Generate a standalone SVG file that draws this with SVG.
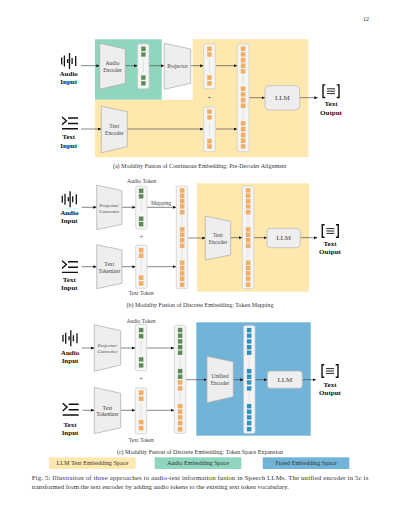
<svg xmlns="http://www.w3.org/2000/svg" width="400" height="517" viewBox="0 0 400 517">
<style>
text{font-family:"Liberation Serif","Times New Roman",serif;fill:#222;text-anchor:middle}
.n{font-size:5.6px;fill:#444}
.b{font-size:7px;font-weight:bold;fill:#111}
.c{font-size:6.03px;fill:#333}
.k{font-size:6.2px;fill:#333}
.l{font-size:7px;fill:#444}
.p{font-size:6.8px;text-anchor:start;fill:#333}
.t{fill:#eee;stroke:#aaa;stroke-width:.7}
.col{fill:#f5f5f5;stroke:#ccc;stroke-width:.7}
.llm{fill:#eee;stroke:#b5b5b5;stroke-width:.7}
.o{fill:#f4ae62;stroke:#e0a868;stroke-width:.3}
.g{fill:#5b8a55;stroke:#7aa070;stroke-width:.3}
.u{fill:#2c90c0;stroke:#4a9cc6;stroke-width:.3}
.gap{stroke:#ccc;stroke-width:.5;fill:none}
.dot{stroke:#aaa;stroke-width:.6;stroke-dasharray:.7 1;fill:none}
.ic{stroke:#111;fill:none;stroke-width:1.3}
#conn line{stroke:#444;stroke-width:.65;fill:none;marker-end:url(#ar)}
</style>
<defs>
<marker id="ar" markerUnits="userSpaceOnUse" markerWidth="4" markerHeight="4" refX="3.4" refY="1.5" orient="auto"><path d="M0 0L3.4 1.5L0 3z" fill="#111"/></marker>
<rect id="so" width="4.2" height="4.2" class="o"/>
<rect id="sg" width="4.2" height="4.2" class="g"/>
<rect id="su" width="4.2" height="4.2" class="u"/>
<g id="iA" class="ic"><path d="M-7-3.5v7M-4.3-5.5v11M-1-2v4M.8-8v16M3.4-3v6M7-5v10"/></g>
<g id="iT" class="ic"><path d="M-8-6L-3.6-2.2L-8 1.8M-2-5H8M-2 .5H8M-8 5.7H8" stroke-width="1.4"/></g>
<g id="iO" class="ic"><path d="M-5.7-6.3H-8V6.3H-5.7M5.7-6.3H8V6.3H5.7" stroke-width="1.4"/><path d="M-4-2.4H4M-4 0H4M-4 2.4H4" stroke-width=".9"/></g>
</defs>
<rect width="400" height="517" fill="#fff"/>
<text x="366" y="21" style="font-size:6px" id="page">12</text>

<g id="zones">
<path d="M192.7 39.3H308.3V157.3H95V99.7H192.7z" fill="#ffe8ae"/>
<rect x="95" y="39.3" width="66.7" height="60.4" fill="#90d5c0"/>
<rect x="197" y="183.3" width="112" height="108.4" fill="#ffe8ae"/>
<rect x="196.3" y="322.3" width="114.4" height="113.4" fill="#72b4d7"/>
</g>

<g id="conn">
<line x1="81" y1="65.7" x2="99.7" y2="65.7"/>
<line x1="125.3" y1="65.7" x2="137.5" y2="65.7"/>
<line x1="149" y1="65.7" x2="164.3" y2="65.7"/>
<line x1="190.7" y1="65.7" x2="203.5" y2="65.7"/>
<line x1="215.3" y1="65.7" x2="237.2" y2="65.7"/>
<line x1="81" y1="129" x2="101.3" y2="129"/>
<line x1="127.3" y1="129" x2="203.5" y2="129"/>
<line x1="215.3" y1="129" x2="237.2" y2="129"/>
<line x1="249" y1="97.7" x2="265" y2="97.7"/>
<line x1="299.7" y1="97.7" x2="317.7" y2="97.7"/>

<line x1="81.7" y1="207.3" x2="96.7" y2="207.3"/>
<line x1="122" y1="207.3" x2="135.7" y2="207.3"/>
<line x1="147" y1="207.3" x2="176.2" y2="207.3"/>
<line x1="81.7" y1="266.7" x2="96.7" y2="266.7"/>
<line x1="122" y1="266.7" x2="135.7" y2="266.7"/>
<line x1="147" y1="266.7" x2="176.2" y2="266.7"/>
<line x1="187.7" y1="238" x2="205.5" y2="238"/>
<line x1="230.7" y1="237.7" x2="242.2" y2="237.7"/>
<line x1="253.7" y1="237.7" x2="267" y2="237.7"/>
<line x1="300.3" y1="237.7" x2="317.3" y2="237.7"/>

<line x1="81.7" y1="348" x2="94.3" y2="348"/>
<line x1="120.7" y1="348" x2="135.3" y2="348"/>
<line x1="146.7" y1="348" x2="174.2" y2="348"/>
<line x1="82.7" y1="410.3" x2="94.3" y2="410.3"/>
<line x1="120.7" y1="410.3" x2="135.3" y2="410.3"/>
<line x1="146.7" y1="410.3" x2="174.2" y2="410.3"/>
<line x1="186" y1="379.7" x2="207" y2="379.7"/>
<line x1="233.3" y1="379.7" x2="243.6" y2="379.7"/>
<line x1="255" y1="379.7" x2="267.3" y2="379.7"/>
<line x1="302.3" y1="379.7" x2="316" y2="379.7"/>
</g>

<!-- panel a -->
<g id="a-audio-input"><use href="#iA" x="68.7" y="61"/><text class="b" x="68.7" y="76">Audio</text><text class="b" x="68.7" y="84">Input</text></g>
<g id="a-text-input"><use href="#iT" x="70" y="123"/><text class="b" x="68.7" y="139.3">Text</text><text class="b" x="68.7" y="148">Input</text></g>
<g id="a-audio-encoder"><path class="t" d="M99.7 43.3L125.3 49V83.3L99.7 89.3z"/><text class="n" x="112.5" y="65">Audio</text><text class="n" x="112.5" y="72">Encoder</text></g>
<g id="a-audio-emb"><rect class="col" x="137.7" y="44" width="11.3" height="44.7" rx="1.5"/><path class="gap" d="M143.3 59V73"/><use href="#sg" x="141.3" y="46.8"/><use href="#sg" x="141.3" y="52.4"/><use href="#sg" x="141.3" y="75.5"/><use href="#sg" x="141.3" y="81.2"/></g>
<g id="a-projector"><path class="t" d="M164.3 43.3L190.7 49V83.3L164.3 89.3z"/><text class="n" x="177.5" y="68">Projector</text></g>
<g id="a-proj-emb"><rect class="col" x="203.7" y="44" width="11.6" height="44.7" rx="1.5"/><path class="gap" d="M209.5 59V73"/><use href="#so" x="207.4" y="46.8"/><use href="#so" x="207.4" y="52.4"/><use href="#so" x="207.4" y="75.5"/><use href="#so" x="207.4" y="81.2"/></g>
<text class="n" x="209.3" y="100" id="a-plus">+</text>
<g id="a-text-encoder"><path class="t" d="M101.3 106.3L127.3 111.7V146.7L101.3 152.7z"/><text class="n" x="114.3" y="128">Text</text><text class="n" x="114.3" y="135">Encoder</text></g>
<g id="a-text-emb"><rect class="col" x="203.7" y="107.3" width="11.6" height="44.4" rx="1.5"/><path class="gap" d="M209.5 122V136"/><use href="#so" x="207.4" y="109.5"/><use href="#so" x="207.4" y="115.3"/><use href="#so" x="207.4" y="139"/><use href="#so" x="207.4" y="144.5"/></g>
<g id="a-fused"><rect class="col" x="237.3" y="44" width="11.7" height="107.7" rx="1.5"/><path class="gap" d="M243.1 75V85M243.1 109V120"/>
<use href="#so" x="241" y="46.7"/><use href="#so" x="241" y="52.3"/><use href="#so" x="241" y="58"/><use href="#so" x="241" y="63.7"/><use href="#so" x="241" y="69.3"/>
<use href="#so" x="241" y="86.7"/><use href="#so" x="241" y="92.3"/><use href="#so" x="241" y="98"/><use href="#so" x="241" y="103.7"/>
<use href="#so" x="241" y="121.3"/><use href="#so" x="241" y="127"/><use href="#so" x="241" y="133"/><use href="#so" x="241" y="138.7"/><use href="#so" x="241" y="144.3"/></g>
<g id="a-llm"><rect class="llm" x="265" y="85.7" width="34.7" height="24.3" rx="4"/><text class="l" x="282.3" y="100">LLM</text></g>
<g id="a-output"><use href="#iO" x="331" y="91.2"/><text class="b" x="331" y="106.3">Text</text><text class="b" x="331" y="115">Output</text></g>
<text class="c" x="199.7" y="168" id="cap-a">(a) Modality Fusion of Continuous Embedding: Pre-Decoder Alignment</text>

<!-- panel b -->
<g id="b-audio-input"><use href="#iA" x="69.3" y="199.3"/><text class="b" x="69.3" y="214.5">Audio</text><text class="b" x="69.3" y="222.5">Input</text></g>
<g id="b-text-input"><use href="#iT" x="70" y="266.7"/><text class="b" x="69.3" y="282.2">Text</text><text class="b" x="69.3" y="290.2">Input</text></g>
<g id="b-projector"><path class="t" d="M96.7 185L122 190.7V224.3L96.7 229.7z"/><text class="n" x="109.3" y="206.5" style="font-size:5px">Projector/</text><text class="n" x="109.3" y="212.5" style="font-size:5px">Converter</text></g>
<text class="n" x="141.7" y="182.5" id="b-audio-token">Audio Token</text>
<g id="b-audio-col"><rect class="col" x="135.7" y="186" width="11.3" height="43" rx="1.5"/><path class="dot" d="M141.3 201.5V212"/><use href="#sg" x="139" y="188.8"/><use href="#sg" x="139" y="194.2"/><use href="#sg" x="139" y="216.7"/><use href="#sg" x="139" y="222"/></g>
<text class="n" x="161" y="205" id="b-mapping">Mapping</text>
<text class="n" x="141.3" y="239" id="b-plus">+</text>
<g id="b-tokenizer"><path class="t" d="M96.7 244.7L122 250V283.3L96.7 288.7z"/><text class="n" x="109.3" y="266">Text</text><text class="n" x="109.3" y="272.5">Tokenizer</text></g>
<g id="b-text-col"><rect class="col" x="135.7" y="245.3" width="11.3" height="43" rx="1.5"/><path class="dot" d="M141.3 260.5V274"/><use href="#so" x="139" y="248"/><use href="#so" x="139" y="253.7"/><use href="#so" x="139" y="275.7"/><use href="#so" x="139" y="281.3"/></g>
<text class="n" x="141.3" y="295.2" id="b-text-token">Text Token</text>
<g id="b-merged"><rect class="col" x="176.3" y="186" width="11.4" height="102.7" rx="1.5"/><path class="gap" d="M182 215V226M182 249V259"/>
<use href="#so" x="180" y="188.3"/><use href="#so" x="180" y="193.7"/><use href="#so" x="180" y="199"/><use href="#so" x="180" y="204.3"/><use href="#so" x="180" y="210"/>
<use href="#so" x="180" y="227.3"/><use href="#so" x="180" y="232.7"/><use href="#so" x="180" y="238"/><use href="#so" x="180" y="243.7"/>
<use href="#so" x="180" y="260.7"/><use href="#so" x="180" y="266"/><use href="#so" x="180" y="271.3"/><use href="#so" x="180" y="276.7"/><use href="#so" x="180" y="282.7"/></g>
<g id="b-encoder"><path class="t" d="M205.3 216L230.7 221.3V255L205.3 260z"/><text class="n" x="218" y="237">Text</text><text class="n" x="218" y="243.5">Encoder</text></g>
<g id="b-emb"><rect class="col" x="242.3" y="186" width="11.4" height="102.7" rx="1.5"/><path class="gap" d="M248 215V226M248 249V259"/>
<use href="#so" x="246" y="188.3"/><use href="#so" x="246" y="193.7"/><use href="#so" x="246" y="199"/><use href="#so" x="246" y="204.3"/><use href="#so" x="246" y="210"/>
<use href="#so" x="246" y="227.3"/><use href="#so" x="246" y="232.7"/><use href="#so" x="246" y="238"/><use href="#so" x="246" y="243.7"/>
<use href="#so" x="246" y="260.7"/><use href="#so" x="246" y="266"/><use href="#so" x="246" y="271.3"/><use href="#so" x="246" y="276.7"/><use href="#so" x="246" y="282.7"/></g>
<g id="b-llm"><rect class="llm" x="267" y="228.3" width="33.3" height="19.4" rx="3.5"/><text class="l" x="283.6" y="240.2">LLM</text></g>
<g id="b-output"><use href="#iO" x="330.3" y="231"/><text class="b" x="330" y="245.5">Text</text><text class="b" x="330" y="253.5">Output</text></g>
<text class="c" x="200" y="307" id="cap-b">(b) Modality Fusion of Discrete Embedding: Token Mapping</text>

<!-- panel c -->
<g id="c-audio-input"><use href="#iA" x="70" y="338.3"/><text class="b" x="70" y="354.5">Audio</text><text class="b" x="70" y="363">Input</text></g>
<g id="c-text-input"><use href="#iT" x="70.7" y="409.3"/><text class="b" x="70" y="426.5">Text</text><text class="b" x="70" y="434.5">Input</text></g>
<g id="c-projector"><path class="t" d="M94.3 324.7L120.7 330.7V365L94.3 371.3z"/><text class="n" x="107.5" y="346.8" style="font-size:5px">Projector/</text><text class="n" x="107.5" y="352.8" style="font-size:5px">Converter</text></g>
<text class="n" x="141" y="322.8" id="c-audio-token">Audio Token</text>
<g id="c-audio-col"><rect class="col" x="135.3" y="324.3" width="11.4" height="46.4" rx="1.5"/><path class="dot" d="M141 341V355"/><use href="#sg" x="139" y="328"/><use href="#sg" x="139" y="334"/><use href="#sg" x="139" y="357.3"/><use href="#sg" x="139" y="363.3"/></g>
<text class="n" x="141" y="381" id="c-plus">+</text>
<g id="c-tokenizer"><path class="t" d="M94.3 387.3L120.7 393.3V427.7L94.3 433.7z"/><text class="n" x="107.5" y="409.5">Text</text><text class="n" x="107.5" y="416">Tokenizer</text></g>
<g id="c-text-col"><rect class="col" x="135.3" y="388" width="11.4" height="46" rx="1.5"/><path class="dot" d="M141 404V418"/><use href="#so" x="139" y="390.7"/><use href="#so" x="139" y="396.7"/><use href="#so" x="139" y="420"/><use href="#so" x="139" y="426"/></g>
<text class="n" x="141.3" y="442" id="c-text-token">Text Token</text>
<g id="c-merged"><rect class="col" x="174.3" y="325.3" width="11.7" height="108" rx="1.5"/><path class="gap" d="M180 357V368M180 391V403"/>
<use href="#sg" x="178" y="328"/><use href="#sg" x="178" y="333.7"/><use href="#sg" x="178" y="339.3"/><use href="#sg" x="178" y="345"/><use href="#sg" x="178" y="350.7"/>
<use href="#sg" x="178" y="369"/><use href="#sg" x="178" y="374.7"/><use href="#so" x="178" y="380.3"/><use href="#so" x="178" y="386.3"/>
<use href="#so" x="178" y="404"/><use href="#so" x="178" y="409.7"/><use href="#so" x="178" y="415.3"/><use href="#so" x="178" y="421"/><use href="#so" x="178" y="427"/></g>
<g id="c-encoder"><path class="t" d="M207 356.3L233.3 361.7V396.7L207 402.7z"/><text class="n" x="220" y="378">Unified</text><text class="n" x="220" y="385">Encoder</text></g>
<g id="c-emb"><rect class="col" x="243.7" y="325.7" width="11.3" height="107.6" rx="1.5"/><path class="gap" d="M249.2 357V368M249.2 391V403"/>
<use href="#su" x="247" y="328"/><use href="#su" x="247" y="333.7"/><use href="#su" x="247" y="339.3"/><use href="#su" x="247" y="345"/><use href="#su" x="247" y="350.7"/>
<use href="#su" x="247" y="369"/><use href="#su" x="247" y="374.7"/><use href="#su" x="247" y="380.3"/><use href="#su" x="247" y="386.3"/>
<use href="#su" x="247" y="404"/><use href="#su" x="247" y="409.7"/><use href="#su" x="247" y="415.3"/><use href="#su" x="247" y="421"/><use href="#su" x="247" y="427"/></g>
<g id="c-llm"><rect class="llm" x="267.3" y="371" width="35" height="17.3" rx="3"/><text class="l" x="284.8" y="382">LLM</text></g>
<g id="c-output"><use href="#iO" x="330" y="371"/><text class="b" x="330" y="386.5">Text</text><text class="b" x="330" y="395">Output</text></g>
<text class="c" x="200" y="453.7" id="cap-c">(c) Modality Fusion of Discrete Embedding: Token Space Expansion</text>

<g id="legend-llm"><rect x="49" y="457.3" width="86.7" height="11.7" fill="#ffe8ae"/><text class="k" x="92.3" y="465.3">LLM Text Embedding Space</text></g>
<g id="legend-audio"><rect x="154.7" y="457.3" width="86.6" height="11.7" fill="#90d5c0"/><text class="k" x="198" y="465.3">Audio Embedding Space</text></g>
<g id="legend-fused"><rect x="262.7" y="457.3" width="86.6" height="11.7" fill="#72b4d7"/><text class="k" x="306" y="465.3">Fused Embedding Space</text></g>

<text class="p" x="31.7" y="480.2" textLength="336.6" lengthAdjust="spacing">Fig. 5: Illustration of three approaches to audio-text information fusion in Speech LLMs. The unified encoder in 5c is</text>
<text class="p" x="31.7" y="488.5" textLength="257" lengthAdjust="spacing">transformed from the text encoder by adding audio tokens to the existing text token vocabulary.</text>
</svg>
